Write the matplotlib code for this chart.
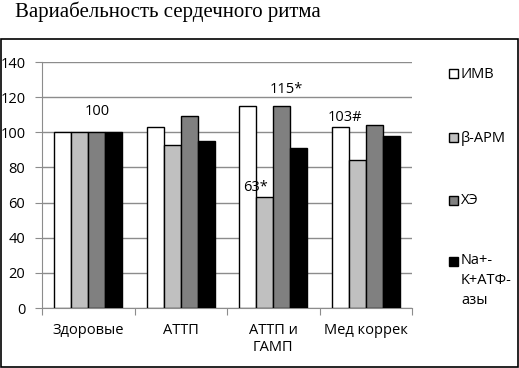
import numpy as np
import matplotlib.pyplot as plt
from matplotlib.patches import Rectangle

plt.rcParams['font.family'] = ['Open Sans', 'DejaVu Sans']

# data
categories = ['Здоровые', 'АТТП', 'АТТП и\nГАМП', 'Мед коррек']
series = ['ИМВ', 'β-АРМ', 'ХЭ', 'Na+-\nK+АТФ-\nазы']
values = [
    [100, 103, 115, 103],   # ИМВ
    [100, 93, 63, 84],      # β-АРМ
    [100, 109, 115, 104],   # ХЭ
    [100, 95, 91, 98],      # Na+-K+АТФ-азы
]
colors = ['#ffffff', '#c0c0c0', '#808080', '#000000']
yticks = [0, 20, 40, 60, 80, 100, 120, 140]

# (series, category, text, dx px, dy px)
notes = [(2, 0, '100', 0, 21), (2, 2, '115*', 5, 16),
         (1, 2, '63*', -9, 10), (0, 3, '103#', 5, 10)]

W, H = 519, 368
fig = plt.figure(figsize=(W / 100, H / 100), dpi=100)

# outer frame and title
fig.patches.append(Rectangle((1 / W, 1 - 367 / H), 517 / W, 328 / H,
                             transform=fig.transFigure, fill=False,
                             edgecolor='black', linewidth=1.2))
fig.text(15 / W, 1 - 12 / H, 'Вариабельность сердечного ритма',
         family='Liberation Serif', fontsize=15, va='center', ha='left')

ax = fig.add_axes([42 / W, 1 - 308 / H, 370 / W, 246 / H])
x = np.arange(len(categories))
bw = 0.184
for i, vals in enumerate(values):
    ax.bar(x + (i - 1.5) * bw, vals, bw, color=colors[i],
           edgecolor='black', linewidth=1, zorder=3)

for s, c, txt, dx, dy in notes:
    ax.annotate(txt, (x[c] + (s - 1.5) * bw, values[s][c]),
                xytext=(dx * 0.72, dy * 0.72), textcoords='offset points',
                ha='center', va='center', fontsize=10.5, zorder=4)

ax.set_xlim(-0.5, len(categories) - 0.5)
ax.set_ylim(0, 140)
ax.set_yticks(yticks)
ax.yaxis.grid(True, color='#8c8c8c', linewidth=1, zorder=0)
ax.set_xticks(np.arange(-0.5, len(categories)), minor=False)
ax.set_xticklabels([])
ax.set_xticks(x, minor=True)
ax.set_xticklabels(categories, minor=True, fontsize=10.5)
ax.tick_params(axis='x', which='minor', length=0, pad=11)
ax.tick_params(axis='x', which='major', length=5, color='#8c8c8c')
ax.tick_params(axis='y', length=5, color='#8c8c8c', labelsize=10.5, pad=7)
for side in ['top', 'right']:
    ax.spines[side].set_visible(False)
for side in ['left', 'bottom']:
    ax.spines[side].set_color('#8c8c8c')

# legend
leg_y = [74, 138, 201, 262]
for i, name in enumerate(series):
    fig.patches.append(Rectangle((449 / W, 1 - (leg_y[i] + 4) / H), 9 / W, 9 / H,
                                 transform=fig.transFigure, facecolor=colors[i],
                                 edgecolor='black', linewidth=1))
    if '\n' in name:
        fig.text(461 / W, 1 - (leg_y[i] - 9) / H, name, fontsize=10.5,
                 ha='left', va='top', linespacing=1.45)
    else:
        fig.text(461 / W, 1 - leg_y[i] / H, name, fontsize=10.5,
                 ha='left', va='center')

fig.savefig('out.png', dpi=100)
